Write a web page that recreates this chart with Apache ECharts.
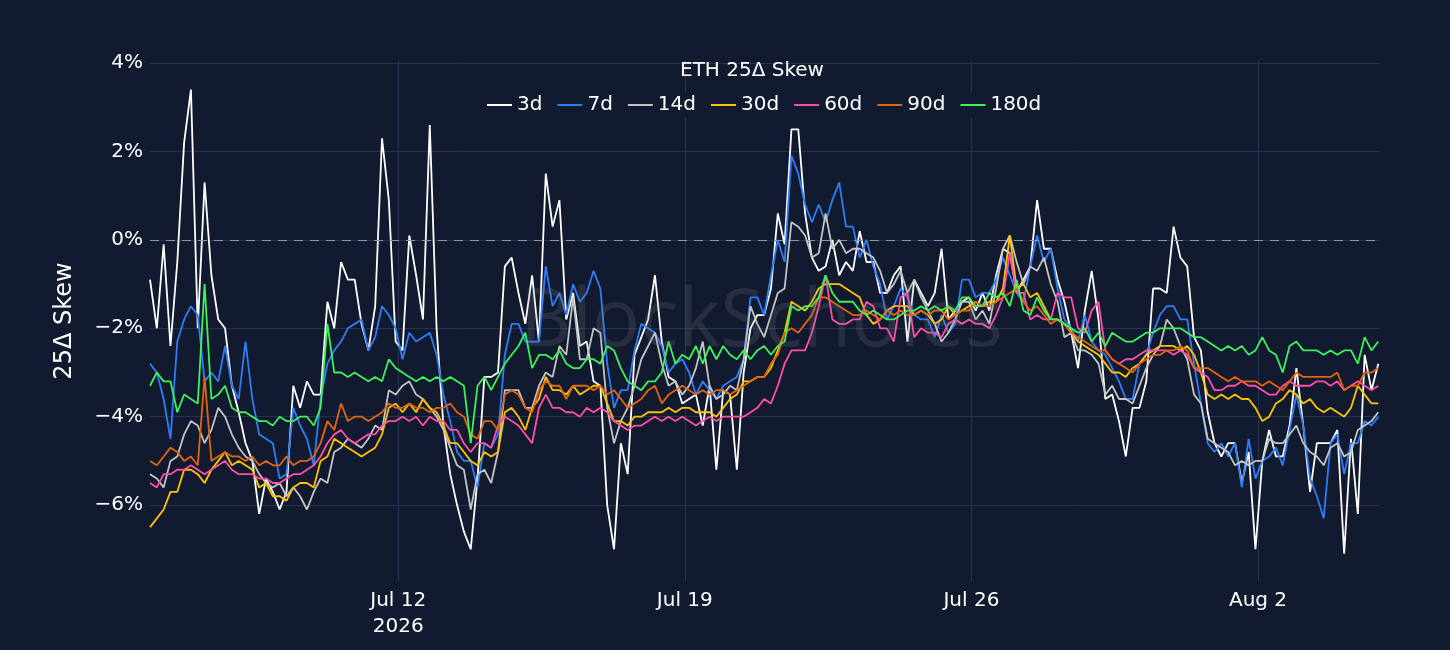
<!DOCTYPE html>
<html>
<head>
<meta charset="utf-8">
<title>ETH 25Δ Skew</title>
<script src="https://cdn.jsdelivr.net/npm/echarts@6/dist/echarts.min.js"></script>
<style>
  html, body { margin: 0; padding: 0; background: #111a2e; }
  #chart { width: 1450px; height: 650px; }
</style>
</head>
<body>
<div id="chart"></div>
<script>
// 4-hourly samples, first one at Jul 5 22:30 UTC
var startTime = Date.UTC(2026, 6, 5, 22, 30);
var stepMs = 4 * 3600 * 1000;

var seriesNames = ['3d', '7d', '14d', '30d', '60d', '90d', '180d'];
var seriesColors = ['#ffffff', '#2f7df6', '#c4c4c4', '#ffc400', '#ff4fa7', '#e2640c', '#3df25a'];

var dateTicks = [Date.UTC(2026, 6, 12), Date.UTC(2026, 6, 19), Date.UTC(2026, 6, 26), Date.UTC(2026, 7, 2)];
var skewTicks = [-6, -4, -2, 0, 2, 4];

var skew3d = [
  -0.9, -2.0, -0.1, -2.4, -0.5, 2.2, 3.4, -2.0, 1.3, -0.8, -1.8, -2.0, -3.3, -3.9, -4.6, -5.0, -6.2, -5.4, -5.7, -6.1, -5.7, -3.3, -3.8, -3.2, -3.5, -3.5, -1.4, -2.0, -0.5, -0.9, -0.9,
  -1.9, -2.5, -1.5, 2.3, 0.9, -2.3, -2.5, 0.1, -0.8, -1.8, 2.6, -2.0, -4.2, -5.3, -6.0, -6.6, -7.0, -5.4, -3.1, -3.1, -3.0, -0.6, -0.4, -1.2, -1.9, -0.8, -2.3, 1.5, 0.3, 0.9,
  -1.8, -1.2, -2.4, -2.3, -3.2, -3.3, -6.0, -7.0, -4.6, -5.3, -2.6, -2.2, -1.8, -0.8, -2.3, -3.1, -3.2, -3.7, -3.6, -3.5, -4.2, -3.3, -5.2, -3.4, -3.5, -5.2, -3.0, -2.0, -1.7, -1.7,
  -1.1, 0.6, -0.1, 2.5, 2.5, 0.6, -0.4, -0.7, -0.6, 0.0, -0.8, -0.5, -0.7, 0.2, -0.5, -0.5, -1.2, -1.2, -0.8, -0.6, -2.3, -0.9, -1.2, -1.5, -1.2, -0.2, -1.8, -1.6, -1.4, -1.3,
  -1.6, -1.2, -1.6, -0.8, -0.2, -0.3, -1.2, -0.9, -0.6, 0.9, -0.2, -0.2, -0.9, -1.4, -2.1, -2.9, -1.6, -0.7, -1.8, -3.6, -3.5, -4.1, -4.9, -3.8, -3.8, -3.2, -1.1, -1.1, -1.2, 0.3,
  -0.4, -0.6, -2.2, -2.5, -3.9, -4.6, -4.9, -4.6, -4.6, -5.5, -4.8, -7.0, -5.0, -4.3, -4.9, -4.9, -4.2, -2.9, -4.2, -5.7, -4.6, -4.6, -4.6, -4.3, -7.1, -4.5, -6.2, -2.6, -3.4, -2.8
];

var skew7d = [
  -2.8, -3.0, -3.6, -4.5, -2.3, -1.8, -1.5, -1.7, -3.2, -3.0, -3.2, -2.4, -3.3, -3.6, -2.3, -3.6, -4.4, -4.5, -4.6, -5.4, -5.3, -3.8, -4.2, -4.5, -5.1, -3.6, -2.8, -2.5, -2.3, -2.0, -1.9,
  -1.8, -2.5, -2.2, -1.5, -1.7, -2.0, -2.7, -2.1, -2.3, -2.2, -2.1, -2.6, -3.5, -4.1, -4.8, -5.0, -5.0, -5.6, -4.6, -4.7, -4.4, -2.6, -1.9, -1.9, -2.3, -2.3, -2.3, -0.6, -1.5, -1.2,
  -1.7, -1.0, -1.4, -1.2, -0.7, -1.1, -2.8, -3.8, -3.4, -3.4, -2.5, -1.9, -2.0, -2.1, -2.4, -3.0, -2.8, -2.7, -3.0, -3.5, -3.2, -3.4, -3.6, -3.3, -3.2, -3.1, -2.7, -1.3, -1.3, -1.7,
  -0.8, 0.0, -0.5, 1.9, 1.5, 0.8, 0.4, 0.8, 0.4, 0.9, 1.3, 0.3, 0.3, -0.4, 0.0, -0.6, -1.0, -1.8, -1.5, -1.1, -1.3, -1.7, -1.8, -1.8, -2.2, -1.7, -2.1, -1.9, -0.9, -0.9,
  -1.3, -1.2, -1.2, -0.9, -0.4, -0.8, -1.2, -1.4, -0.6, 0.1, -0.5, -0.2, -1.1, -1.8, -2.0, -2.3, -1.7, -2.3, -2.5, -2.6, -2.9, -3.2, -3.6, -3.6, -2.8, -2.6, -2.1, -1.7, -1.5, -1.5,
  -1.8, -1.8, -2.8, -3.7, -4.6, -4.8, -4.6, -4.9, -4.6, -5.6, -4.5, -5.4, -5.0, -4.9, -4.7, -5.1, -4.3, -3.5, -4.2, -5.4, -5.8, -6.3, -4.6, -4.4, -5.3, -4.6, -4.6, -4.1, -4.2, -4.0
];

var skew14d = [
  -5.3, -5.4, -5.6, -5.0, -4.9, -4.4, -4.1, -4.2, -4.6, -4.3, -3.8, -4.0, -4.4, -4.7, -4.9, -5.0, -5.3, -5.5, -5.6, -5.5, -5.8, -5.6, -5.8, -6.1, -5.7, -5.4, -5.5, -4.8, -4.7, -4.5, -4.6,
  -4.7, -4.5, -4.2, -4.3, -3.4, -3.5, -3.3, -3.2, -3.5, -3.6, -3.8, -4.0, -4.3, -4.7, -5.1, -5.2, -6.1, -5.3, -5.2, -5.5, -4.8, -3.4, -3.4, -3.4, -3.8, -3.8, -3.3, -3.0, -3.1, -2.4,
  -2.6, -1.3, -2.7, -2.7, -2.0, -2.1, -3.8, -4.6, -4.1, -3.8, -3.3, -2.7, -2.4, -2.1, -2.8, -3.3, -3.2, -3.5, -3.3, -2.9, -2.3, -3.3, -3.6, -3.5, -3.3, -3.4, -2.7, -1.5, -1.9, -2.2,
  -1.7, -1.2, -1.1, 0.4, 0.3, 0.1, -0.4, -0.3, 0.6, -0.2, 0.0, -0.3, -0.2, -0.2, -0.3, -0.4, -0.7, -1.2, -1.0, -0.7, -1.2, -0.9, -1.3, -1.6, -1.9, -2.3, -2.1, -1.8, -1.4, -1.4,
  -1.8, -1.6, -1.9, -1.1, -0.2, 0.1, -0.5, -1.0, -0.6, -0.7, -0.4, -1.0, -1.4, -2.2, -2.1, -2.5, -2.5, -2.6, -2.8, -3.5, -3.3, -3.6, -3.6, -3.7, -3.3, -2.9, -2.6, -2.4, -1.8, -2.0,
  -2.4, -2.7, -3.5, -3.7, -4.5, -4.6, -4.7, -4.8, -5.1, -5.0, -5.1, -5.0, -5.0, -4.5, -4.6, -4.6, -4.4, -4.2, -4.6, -4.8, -4.9, -5.1, -4.7, -4.6, -4.9, -4.8, -4.3, -4.2, -4.1, -3.9
];

var skew30d = [
  -6.5, -6.3, -6.1, -5.7, -5.7, -5.2, -5.2, -5.3, -5.5, -5.2, -5.0, -4.8, -5.1, -5.0, -5.1, -5.2, -5.6, -5.5, -5.8, -5.8, -5.9, -5.6, -5.5, -5.5, -5.6, -5.0, -4.9, -4.5, -4.6, -4.7, -4.8,
  -4.9, -4.8, -4.7, -4.4, -3.8, -3.7, -3.9, -3.7, -3.9, -3.6, -3.8, -3.9, -4.2, -4.6, -4.6, -4.8, -5.0, -5.1, -4.8, -4.9, -4.8, -3.9, -3.8, -4.0, -4.3, -3.8, -3.6, -3.1, -3.4, -3.4,
  -3.5, -3.3, -3.5, -3.4, -3.3, -3.3, -3.7, -4.1, -4.1, -4.2, -4.0, -4.0, -3.9, -3.9, -3.9, -3.8, -3.9, -3.8, -3.8, -3.9, -3.9, -3.9, -4.0, -3.8, -3.6, -3.5, -3.2, -3.2, -3.1, -3.1,
  -2.9, -2.5, -2.1, -1.4, -1.5, -1.6, -1.4, -1.1, -1.0, -1.0, -1.0, -1.1, -1.2, -1.3, -1.7, -1.9, -1.8, -1.6, -1.5, -1.5, -1.5, -1.7, -1.6, -1.7, -1.9, -1.8, -1.5, -1.7, -1.6, -1.5,
  -1.4, -1.5, -1.4, -1.4, -1.1, 0.1, -1.1, -1.0, -1.3, -1.2, -1.5, -1.8, -1.8, -1.9, -2.1, -2.3, -2.4, -2.5, -2.6, -2.8, -3.0, -3.0, -3.1, -2.9, -2.8, -2.6, -2.5, -2.4, -2.4, -2.4,
  -2.5, -2.4, -2.6, -3.0, -3.5, -3.6, -3.5, -3.6, -3.5, -3.6, -3.6, -3.8, -4.1, -4.0, -3.7, -3.6, -3.4, -3.5, -3.7, -3.6, -3.8, -3.9, -3.8, -3.9, -4.0, -3.8, -3.3, -3.5, -3.7, -3.7
];

var skew60d = [
  -5.5, -5.6, -5.3, -5.3, -5.2, -5.2, -5.1, -5.2, -5.3, -5.2, -5.1, -5.0, -5.2, -5.3, -5.3, -5.3, -5.4, -5.4, -5.5, -5.5, -5.4, -5.3, -5.3, -5.2, -5.1, -4.9, -4.6, -4.4, -4.3, -4.5, -4.6,
  -4.5, -4.4, -4.4, -4.2, -4.1, -4.1, -4.0, -4.1, -4.0, -4.2, -4.0, -4.1, -4.1, -4.3, -4.3, -4.6, -4.8, -4.6, -4.6, -4.7, -4.2, -4.0, -4.1, -4.2, -4.4, -4.6, -3.8, -3.5, -3.8, -3.8,
  -3.9, -3.9, -4.0, -3.8, -3.9, -3.8, -3.9, -4.1, -4.2, -4.3, -4.2, -4.2, -4.1, -4.0, -4.1, -4.0, -4.1, -4.0, -4.1, -4.2, -4.1, -4.0, -4.1, -4.0, -4.0, -4.0, -4.0, -3.9, -3.8, -3.6,
  -3.7, -3.3, -2.8, -2.5, -2.5, -2.5, -2.1, -1.5, -0.8, -1.8, -1.9, -1.9, -1.8, -1.8, -1.4, -1.5, -2.0, -2.0, -2.3, -1.3, -1.2, -2.2, -2.0, -2.1, -2.1, -2.2, -1.9, -1.8, -1.9, -1.8,
  -1.9, -1.9, -2.0, -1.7, -1.3, -0.3, -1.2, -1.2, -1.8, -1.7, -1.8, -1.8, -1.2, -1.3, -1.3, -2.0, -2.1, -1.6, -1.4, -2.5, -2.7, -2.8, -2.7, -2.7, -2.6, -2.5, -2.5, -2.5, -2.5, -2.6,
  -2.5, -2.6, -2.9, -3.0, -3.1, -3.4, -3.4, -3.3, -3.3, -3.2, -3.3, -3.3, -3.4, -3.5, -3.5, -3.3, -3.2, -3.3, -3.3, -3.3, -3.2, -3.2, -3.3, -3.2, -3.4, -3.3, -3.2, -3.3, -3.4, -3.3
];

var skew90d = [
  -5.0, -5.1, -4.9, -4.7, -4.8, -5.0, -4.9, -5.1, -3.1, -5.0, -4.9, -4.8, -4.9, -4.9, -5.0, -4.9, -5.1, -5.0, -5.1, -5.1, -4.9, -5.1, -5.0, -5.0, -4.9, -4.6, -4.1, -4.3, -3.7, -4.1, -4.0,
  -4.0, -4.1, -4.0, -3.9, -3.7, -3.8, -3.8, -3.7, -3.8, -3.8, -3.9, -3.8, -3.8, -3.7, -3.9, -4.0, -4.4, -4.5, -4.1, -4.1, -4.3, -3.5, -3.4, -3.5, -3.8, -3.9, -3.4, -3.2, -3.3, -3.3,
  -3.6, -3.3, -3.3, -3.3, -3.4, -3.3, -3.5, -3.4, -3.6, -3.8, -3.7, -3.6, -3.4, -3.3, -3.7, -3.5, -3.4, -3.3, -3.4, -3.5, -3.4, -3.5, -3.4, -3.4, -3.5, -3.4, -3.3, -3.2, -3.1, -3.1,
  -2.8, -2.6, -2.1, -2.0, -2.1, -1.9, -1.7, -1.3, -1.3, -1.4, -1.5, -1.6, -1.7, -1.7, -1.6, -1.7, -1.8, -1.6, -1.7, -1.6, -1.7, -1.7, -1.6, -1.7, -1.6, -1.6, -1.8, -1.7, -1.6, -1.6,
  -1.4, -1.5, -1.5, -1.4, -1.3, -1.2, -1.1, -1.4, -1.6, -1.5, -1.7, -1.9, -1.8, -1.9, -2.1, -2.2, -2.3, -2.4, -2.5, -2.5, -2.7, -2.8, -2.9, -3.0, -2.8, -2.7, -2.6, -2.6, -2.5, -2.5,
  -2.4, -2.5, -2.9, -2.9, -2.9, -3.0, -3.1, -3.2, -3.1, -3.2, -3.2, -3.2, -3.3, -3.2, -3.3, -3.4, -3.2, -3.0, -3.1, -3.1, -3.1, -3.1, -3.1, -3.0, -3.4, -3.3, -3.3, -3.0, -3.0, -2.9
];

var skew180d = [
  -3.3, -3.0, -3.2, -3.2, -3.9, -3.5, -3.6, -3.7, -1.0, -3.6, -3.5, -3.3, -3.8, -3.9, -3.9, -4.0, -4.1, -4.1, -4.2, -4.0, -4.1, -4.1, -4.0, -4.0, -4.2, -3.8, -1.9, -3.0, -3.0, -3.1, -3.0,
  -3.1, -3.2, -3.1, -3.2, -2.7, -2.9, -3.0, -3.1, -3.2, -3.1, -3.2, -3.1, -3.2, -3.1, -3.2, -3.3, -4.6, -3.3, -3.1, -3.4, -3.1, -2.8, -2.6, -2.4, -2.1, -2.9, -2.6, -2.6, -2.7, -2.5,
  -2.8, -2.9, -2.9, -2.7, -2.7, -2.8, -2.4, -2.5, -2.9, -3.2, -3.3, -3.4, -3.2, -3.2, -3.0, -2.3, -2.8, -2.6, -2.7, -2.4, -2.8, -2.4, -2.7, -2.4, -2.6, -2.7, -2.5, -2.7, -2.5, -2.4,
  -2.6, -2.4, -2.3, -1.5, -1.6, -1.5, -1.5, -1.3, -0.8, -1.2, -1.4, -1.4, -1.4, -1.6, -1.7, -1.6, -1.7, -1.8, -1.8, -1.7, -1.6, -1.6, -1.5, -1.6, -1.5, -1.6, -1.5, -1.6, -1.3, -1.3,
  -1.5, -1.5, -1.2, -1.3, -1.2, -1.5, -0.9, -1.6, -1.7, -1.3, -1.6, -1.8, -1.8, -1.9, -2.0, -2.1, -2.0, -2.3, -2.1, -2.4, -2.1, -2.2, -2.3, -2.3, -2.2, -2.1, -2.1, -2.0, -2.0, -2.0,
  -2.0, -2.1, -2.2, -2.2, -2.3, -2.4, -2.5, -2.4, -2.5, -2.4, -2.6, -2.5, -2.2, -2.5, -2.6, -3.0, -2.4, -2.3, -2.5, -2.5, -2.5, -2.6, -2.5, -2.6, -2.5, -2.5, -2.8, -2.2, -2.5, -2.3
];

var allSkews = [skew3d, skew7d, skew14d, skew30d, skew60d, skew90d, skew180d];

var BG = '#111a2e';
var GRID = '#26324f';
var FONT = 'DejaVu Sans';

function toPoints(values) {
  return values.map(function (v, i) {
    return [startTime + i * stepMs, v];
  });
}

function dateLabel(value) {
  var d = new Date(value);
  var months = ['Jan', 'Feb', 'Mar', 'Apr', 'May', 'Jun', 'Jul', 'Aug', 'Sep', 'Oct', 'Nov', 'Dec'];
  var s = months[d.getUTCMonth()] + ' ' + d.getUTCDate();
  // only the first tick carries the year, like the original
  if (value === dateTicks[0]) { s += '\n' + d.getUTCFullYear(); }
  return s;
}

function pctLabel(v) {
  return (v < 0 ? '\u2212' : '') + Math.abs(v) + '%';
}

var series = seriesNames.map(function (name, k) {
  return {
    name: name,
    type: 'line',
    data: toPoints(allSkews[k]),
    showSymbol: false,
    symbol: 'none',
    lineStyle: { width: 1.8, color: seriesColors[k] },
    itemStyle: { color: seriesColors[k] },
    z: 3 + k
  };
});

// dashed zero line under the data
series.unshift({
  name: 'zero',
  type: 'line',
  data: [],
  z: 2,
  markLine: {
    silent: true,
    symbol: 'none',
    label: { show: false },
    lineStyle: { color: '#8e96aa', width: 1, type: [9, 7] },
    data: [{ yAxis: 0 }]
  }
});

var chart = echarts.init(document.getElementById('chart'));
chart.setOption({
  backgroundColor: BG,
  animation: false,
  textStyle: { fontFamily: FONT },
  title: {
    text: 'ETH 25Δ Skew',
    left: 680,
    top: 61,
    padding: 0,
    textStyle: { color: '#ffffff', fontSize: 20, fontWeight: 'normal', fontFamily: FONT }
  },
  legend: {
    data: seriesNames,
    icon: 'rect',
    left: 477,
    top: 92,
    padding: [3, 10],
    itemGap: 15,
    itemWidth: 25,
    itemHeight: 2,
    backgroundColor: BG,
    textStyle: { color: '#ffffff', fontSize: 20, fontFamily: FONT }
  },
  grid: { left: 150, right: 70, top: 60, bottom: 68 },
  xAxis: {
    type: 'value',
    min: startTime,
    max: Date.UTC(2026, 7, 4, 23, 30),
    axisLine: { show: false },
    axisTick: { show: false, customValues: dateTicks },
    axisLabel: {
      customValues: dateTicks,
      formatter: dateLabel,
      color: '#ffffff',
      fontSize: 20,
      lineHeight: 26,
      margin: 6,
      fontFamily: FONT
    },
    splitLine: { show: true, lineStyle: { color: GRID, width: 1 } }
  },
  yAxis: {
    type: 'value',
    min: -7.74,
    max: 4.07,
    name: '25Δ Skew',
    nameLocation: 'middle',
    nameGap: 73,
    nameTextStyle: { color: '#ffffff', fontSize: 24, fontFamily: FONT },
    axisLine: { show: false },
    axisTick: { show: false, customValues: skewTicks },
    axisLabel: {
      customValues: skewTicks,
      formatter: pctLabel,
      color: '#ffffff',
      fontSize: 20,
      margin: 7,
      fontFamily: FONT
    },
    splitLine: { show: true, lineStyle: { color: GRID, width: 1 } }
  },
  graphic: [{
    type: 'text',
    left: 520,
    top: 283,
    z: 100,
    silent: true,
    style: {
      text: 'BlockScholes',
      fill: 'rgba(130,130,138,0.2)',
      font: '80px "Open Sans"'
    }
  }],
  series: series
});
</script>
</body>
</html>
